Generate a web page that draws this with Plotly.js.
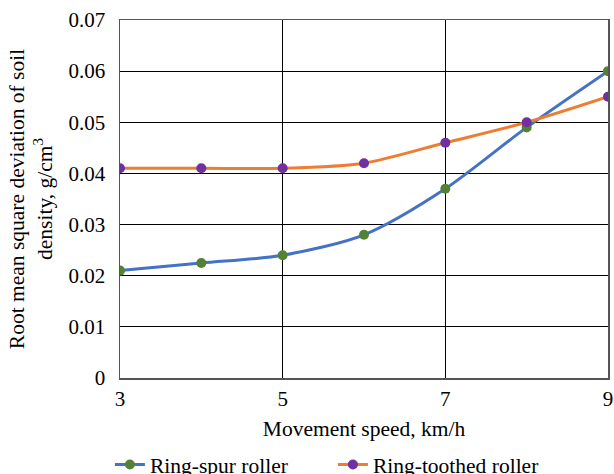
<!DOCTYPE html>
<html><head><meta charset="utf-8">
<script src="https://cdn.plot.ly/plotly-3.0.1.min.js"></script>
<style>body{margin:0;background:#fff}#c{width:614px;height:474px}</style>
</head><body><div id="c"></div>
<script>
var speed = [3, 4, 5, 6, 7, 8, 9];
var ringSpur = [0.021, 0.0225, 0.024, 0.028, 0.037, 0.049, 0.060];
var ringToothed = [0.041, 0.041, 0.041, 0.042, 0.046, 0.050, 0.055];
var xTicks = [3, 5, 7, 9];
var serifFamily = 'Times New Roman';
var traces = [
  {x: speed, y: ringSpur, name: 'Ring-spur roller', mode: 'lines+markers',
   line: {color: '#4472C4', width: 3, shape: 'spline', smoothing: 0.8},
   marker: {color: '#548235', size: 10}},
  {x: speed, y: ringToothed, name: 'Ring-toothed roller', mode: 'lines+markers',
   line: {color: '#ED7D31', width: 3, shape: 'spline', smoothing: 0.8},
   marker: {color: '#7030A0', size: 10}}
];
var layout = {
  width: 614, height: 474,
  margin: {l: 120, r: 6, t: 20, b: 96},
  paper_bgcolor: '#fff', plot_bgcolor: '#fff',
  font: {family: serifFamily, size: 21, color: '#000'},
  showlegend: true,
  legend: {orientation: 'h', x: 0.179, xanchor: 'left', xref: 'container',
    y: 0.02, yanchor: 'middle', yref: 'container', entrywidth: 178,
    font: {family: serifFamily, size: 21.5, color: '#000'}, tracegroupgap: 0},
  xaxis: {range: [3, 9], tickvals: xTicks, ticktext: xTicks.map(String),
    showgrid: true, gridcolor: '#000', gridwidth: 1,
    showline: true, linecolor: '#555', linewidth: 1.5, mirror: true,
    zeroline: false, ticks: 'outside', ticklen: 1, tickcolor: 'rgba(0,0,0,0)',
    tickfont: {family: serifFamily, size: 21, color: '#000'},
    title: {text: 'Movement speed, km/h', font: {family: serifFamily, size: 21.5, color: '#000'}, standoff: 11}},
  yaxis: {range: [0, 0.07], dtick: 0.01, tickformat: '.2~f',
    showgrid: true, gridcolor: '#000', gridwidth: 1,
    showline: true, linecolor: '#555', linewidth: 1.5, mirror: true,
    zeroline: false, ticks: 'outside', ticklen: 9, tickcolor: 'rgba(0,0,0,0)',
    tickfont: {family: serifFamily, size: 21, color: '#000'},
    title: {text: 'Root mean square deviation of soil<br>density, g/cm<sup>3</sup>',
      font: {family: serifFamily, size: 21.5, color: '#000'}, standoff: 10}}
};
Plotly.newPlot('c', traces, layout, {displayModeBar: false, staticPlot: true});
</script></body></html>
